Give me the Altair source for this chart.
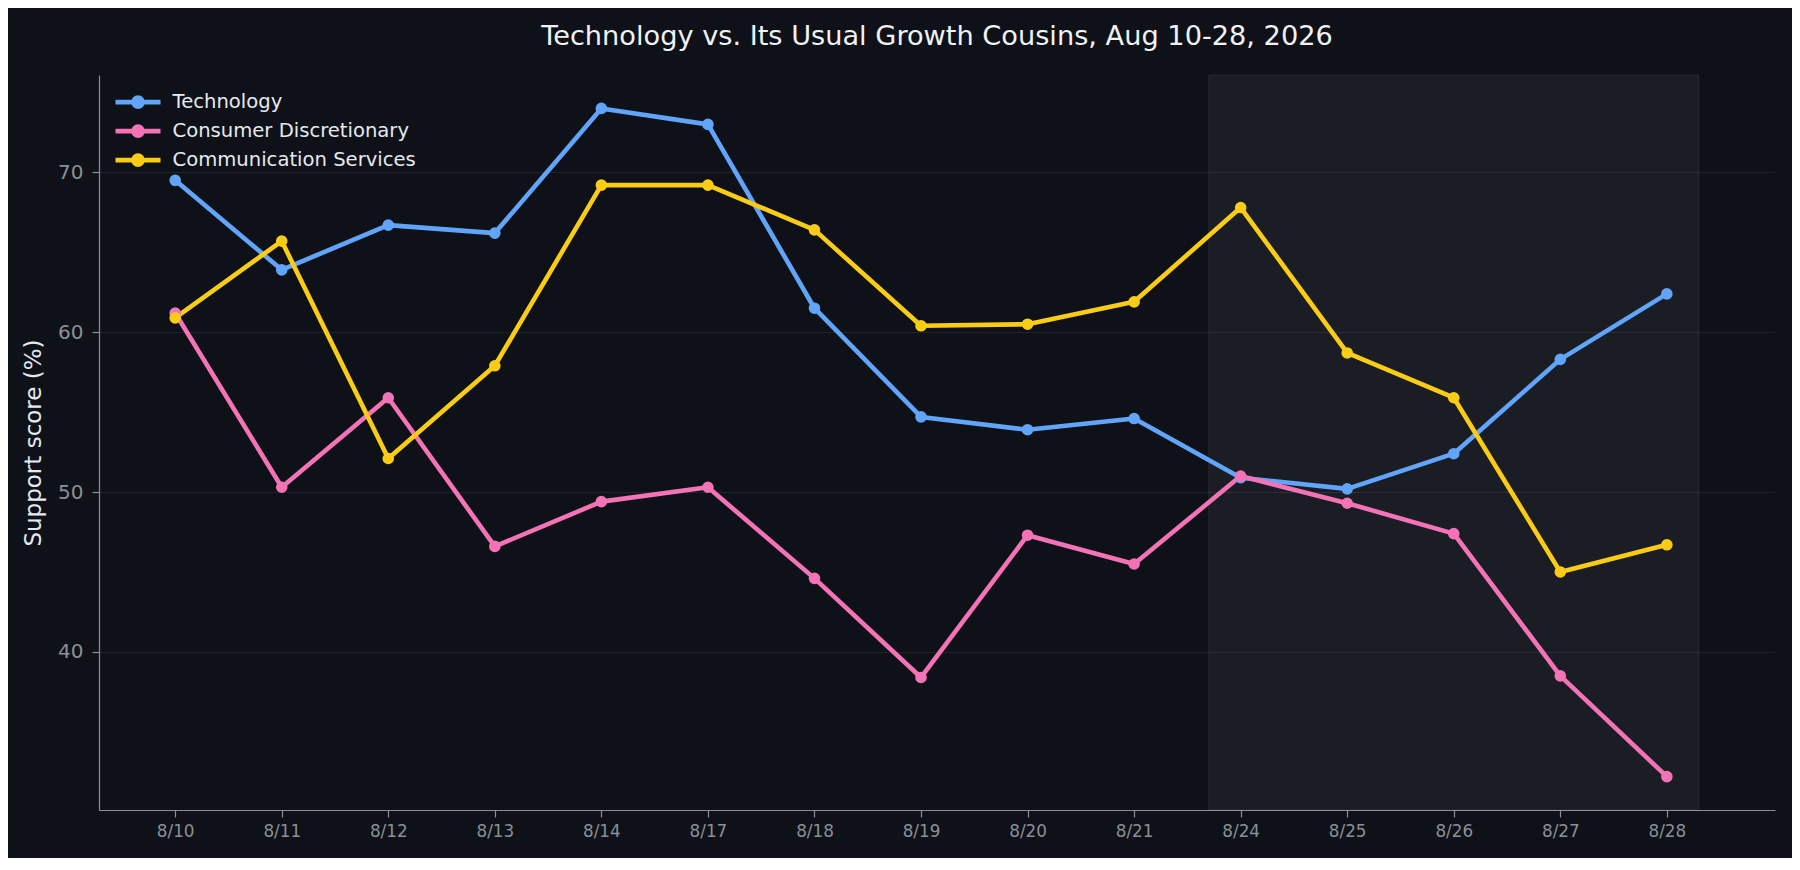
import altair as alt
import pandas as pd

# ---- data ----
dates = ["8/10", "8/11", "8/12", "8/13", "8/14", "8/17", "8/18", "8/19",
         "8/20", "8/21", "8/24", "8/25", "8/26", "8/27", "8/28"]
series_names = ["Technology", "Consumer Discretionary", "Communication Services"]
technology = [69.5, 63.9, 66.7, 66.2, 74.0, 73.0, 61.5, 54.7, 53.9, 54.6, 50.9, 50.2, 52.4, 58.3, 62.4]
consumer = [61.2, 50.3, 55.9, 46.6, 49.4, 50.3, 44.6, 38.4, 47.3, 45.5, 51.0, 49.3, 47.4, 38.5, 32.2]
communication = [60.9, 65.7, 52.1, 57.9, 69.2, 69.2, 66.4, 60.4, 60.5, 61.9, 67.8, 58.7, 55.9, 45.0, 46.7]
colors = ["#60a5fa", "#f472b6", "#facc15"]
y_ticks = [40, 50, 60, 70]
span_from, span_to, span_pad = "8/24", "8/28", 0.3

# ---- tables built from the arrays ----
rows = []
for name, vals in zip(series_names, [technology, consumer, communication]):
    for i, (d, v) in enumerate(zip(dates, vals)):
        rows.append({"idx": i, "date": d, "series": name, "value": v})
df = pd.DataFrame(rows)

span_df = pd.DataFrame([{"x0": dates.index(span_from) - span_pad,
                         "x1": dates.index(span_to) + span_pad}])

# matplotlib-like 5% margins
x_lo = min(0, span_df.x0.min())
x_hi = max(len(dates) - 1, span_df.x1.max())
x_m = 0.05 * (x_hi - x_lo)
x_domain = [float(x_lo - x_m), float(x_hi + x_m)]
all_vals = technology + consumer + communication
y_m = 0.05 * (max(all_vals) - min(all_vals))
y_domain = [min(all_vals) - y_m, max(all_vals) + y_m]

label_expr = "[" + ",".join("'%s'" % d for d in dates) + "][datum.value]"

FONT = "DejaVu Sans"
AXIS_GRAY = "#8b9098"
TEXT = "#e6e9ee"

x_enc = alt.X("idx:Q", scale=alt.Scale(domain=x_domain, nice=False, zero=False),
              axis=alt.Axis(values=list(range(len(dates))), labelExpr=label_expr,
                            title=None, grid=False, tickSize=7, labelPadding=6,
                            labelFontSize=16.8, labelColor=AXIS_GRAY,
                            domainColor=AXIS_GRAY, tickColor=AXIS_GRAY,
                            labelFont=FONT, labelFlush=False))
y_enc = alt.Y("value:Q", scale=alt.Scale(domain=y_domain, nice=False, zero=False),
              axis=alt.Axis(values=y_ticks, title="Support score (%)", grid=True,
                            gridColor="#ffffff", gridOpacity=0.08, gridWidth=1,
                            tickSize=7, labelPadding=9, labelFontSize=20,
                            labelColor=AXIS_GRAY, domainColor=AXIS_GRAY,
                            tickColor=AXIS_GRAY, labelFont=FONT,
                            titleFont=FONT, titleFontSize=23, titleColor=TEXT,
                            titleFontWeight="normal", titleX=-66,
                            titleBaseline="middle", titleAlign="center",
                            titleAngle=270))

series_scale = alt.Scale(domain=series_names, range=colors)

legend_path = ("M-2.5,0L2.5,0M-0.5,0A0.5,0.5,0,1,1,0.5,0"
               "A0.5,0.5,0,1,1,-0.5,0Z")
legend = alt.Legend(
    title=None, orient="none", legendX=27.5, legendY=15.6,
    symbolType=legend_path, symbolSize=324, symbolStrokeWidth=4.6,
    symbolOpacity=1, labelLimit=0,
    labelFont=FONT, labelFontSize=19.6, labelColor=TEXT, labelOffset=23,
    rowPadding=0, padding=0,
)

span = alt.Chart(span_df).mark_rect(
    fill="#f2f5ff", fillOpacity=0.055, stroke="#ffffff", strokeOpacity=0.08,
    strokeWidth=1
).encode(
    x=alt.X("x0:Q", scale=alt.Scale(domain=x_domain, nice=False, zero=False)),
    x2="x1:Q",
    y=alt.value(0),
    y2=alt.value("height"),
)

lines = alt.Chart(df).mark_line(strokeWidth=4.6, strokeJoin="round").encode(
    x=x_enc, y=y_enc,
    stroke=alt.Stroke("series:N", scale=series_scale, sort=series_names,
                      legend=legend, title=None),
    detail="series:N",
)

points = alt.Chart(df).mark_circle(size=135, opacity=1).encode(
    x=x_enc, y=y_enc,
    fill=alt.Fill("series:N", scale=series_scale, sort=series_names,
                  legend=legend, title=None),
)

chart = alt.layer(span, lines, points).properties(
    width=1676, height=735,
    padding={"left": 91, "top": 67, "right": 17, "bottom": 48},
    autosize=alt.AutoSizeParams(type="none"),
    background="#0e1117",
    title=alt.TitleParams(
        "Technology vs. Its Usual Growth Cousins, Aug 10-28, 2026",
        font=FONT, fontSize=27.2, fontWeight="normal", color="#f0f2f5",
        anchor="middle", offset=2, baseline="alphabetic", frame="group",
    ),
).configure_view(stroke=None).configure_axis(
    domainWidth=1.2, tickWidth=1.2
)

chart.save("out.html", embed_options={"renderer": "svg", "actions": False})
